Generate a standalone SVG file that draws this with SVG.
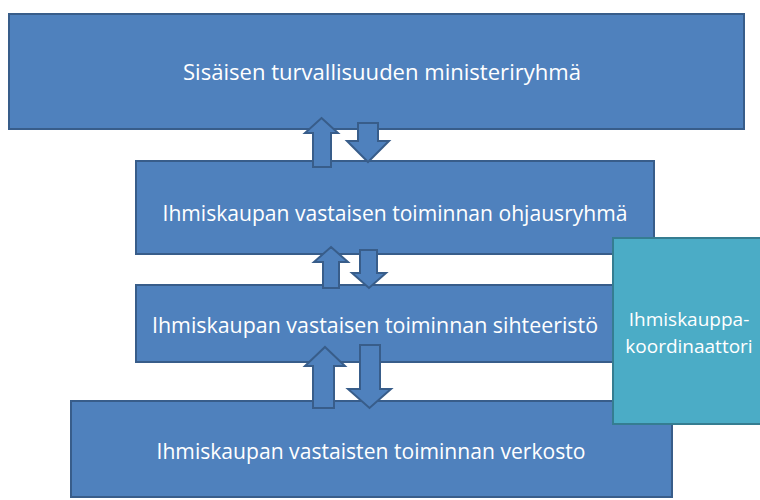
<svg xmlns="http://www.w3.org/2000/svg" width="760" height="500" viewBox="0 0 760 500">
<style>
.box{fill:#4F81BD;stroke:#385D8A;stroke-width:2}
.coord{fill:#4BACC6;stroke:#357D91;stroke-width:2}
.arr{fill:#4F81BD;stroke:#385D8A;stroke-width:2;stroke-linejoin:miter}
.t{fill:#fff;font-family:"Open Sans","Liberation Sans",sans-serif;font-size:21px;text-anchor:middle}
.c{fill:#fff;font-family:"Open Sans","Liberation Sans",sans-serif;font-size:19px;text-anchor:middle}
</style>
<rect width="760" height="500" fill="#fff"/>
<g id="n1"><rect class="box" x="9" y="14" width="735" height="115"/>
<text class="t" x="382" y="80" textLength="398" lengthAdjust="spacingAndGlyphs">Sisäisen turvallisuuden ministeriryhmä</text></g>
<g id="n2"><rect class="box" x="136" y="161" width="518" height="93"/>
<text class="t" x="395" y="221" textLength="465" lengthAdjust="spacingAndGlyphs">Ihmiskaupan vastaisen toiminnan ohjausryhmä</text></g>
<g id="n3"><rect class="box" x="136" y="285" width="518" height="77"/>
<text class="t" x="375" y="333" textLength="446" lengthAdjust="spacingAndGlyphs">Ihmiskaupan vastaisen toiminnan sihteeristö</text></g>
<g id="n4"><rect class="box" x="71" y="401" width="601" height="96"/>
<text class="t" x="371" y="459" textLength="429" lengthAdjust="spacingAndGlyphs">Ihmiskaupan vastaisten toiminnan verkosto</text></g>
<g id="connectors">
<polygon class="arr" points="321.5,118 338,133 331,133 331,167 313,167 313,133 305,133"/>
<polygon class="arr" points="358,123 378,123 378,141 389,141 368,162 347,141 358,141"/>
<polygon class="arr" points="331,247 348,262 339,262 339,288 323,288 323,262 314,262"/>
<polygon class="arr" points="360,250 377,250 377,273 386,273 369,288 352,273 360,273"/>
<polygon class="arr" points="325,347 345,366 334,366 334,408 313,408 313,366 305,366"/>
<polygon class="arr" points="360,345 380,345 380,389 391,389 369.5,408 348,389 360,389"/>
</g>
<g id="n5"><rect class="coord" x="613" y="238" width="152" height="186"/>
<text class="c" x="689" y="326">Ihmiskauppa-</text>
<text class="c" x="689" y="353">koordinaattori</text></g>
</svg>
